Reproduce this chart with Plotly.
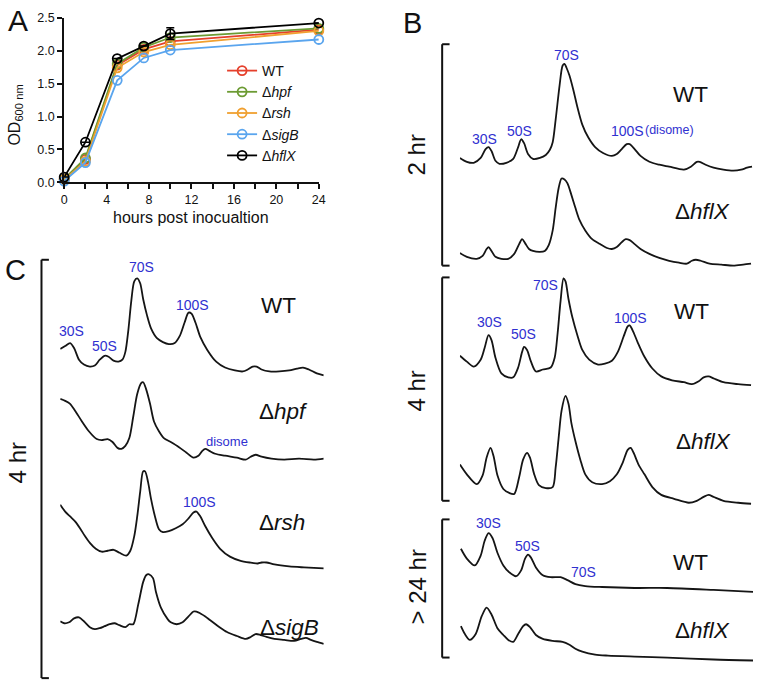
import plotly.graph_objects as go

W, H = 762, 691
FONT = "Liberation Sans, Arial, Helvetica, sans-serif"
BLUE = "#3030d0"

# ---------------- Panel A: growth curves ----------------
hours = [0, 2, 5, 7.5, 10, 24]
od_wt = [0.05, 0.35, 1.78, 2.02, 2.14, 2.32]
od_hpf = [0.05, 0.37, 1.80, 2.05, 2.20, 2.34]
od_rsh = [0.04, 0.32, 1.74, 1.98, 2.09, 2.30]
od_sigb = [0.02, 0.30, 1.55, 1.89, 2.01, 2.17]
od_hflx = [0.08, 0.61, 1.88, 2.07, 2.26, 2.42]
hflx_err = [0, 0, 0, 0, 0.09, 0]
strain_names = ["WT", "Δ<i>hpf</i>", "Δ<i>rsh</i>", "Δ<i>sigB</i>", "Δ<i>hflX</i>"]
strain_colors = ["#e5402c", "#6c9b33", "#f0a030", "#5aa5ee", "#000000"]
x_ticks = [0, 4, 8, 12, 16, 20, 24]
y_ticks = [0.0, 0.5, 1.0, 1.5, 2.0, 2.5]

# ---------------- Panel B: sucrose-gradient profiles (position, A254 mAU) ----------------
b2_wt_pos = [0, 7, 14, 21, 26, 29, 32, 36, 40, 47, 54, 59, 62, 65, 69, 74, 81, 87, 91, 94, 97, 101, 104, 106, 108, 111, 115, 119, 124, 130, 137, 145, 154, 159, 164, 169, 172, 177, 183, 192, 202, 212, 227, 234, 240, 243, 249, 257, 267, 277, 285, 291, 296]
b2_wt_abs = [16, 12, 11, 16, 25, 27, 23, 13, 10, 11, 15, 27, 35, 31, 20, 15, 16, 19, 24, 32, 55, 90, 110, 112, 108, 100, 85, 68, 50, 37, 27, 21, 18, 20, 25, 30, 30, 25, 18, 12, 9, 7, 4, 7, 12, 12, 9, 6, 4, 3, 4, 6, 7]

b2_hflx_pos = [0, 7, 17, 23, 27, 29, 32, 36, 42, 49, 55, 60, 63, 66, 70, 74, 81, 86, 90, 94, 97, 100, 103, 106, 109, 113, 117, 121, 127, 134, 142, 149, 154, 159, 164, 168, 172, 177, 183, 192, 202, 212, 222, 230, 235, 239, 244, 253, 265, 277, 287, 295]
b2_hflx_abs = [19, 15, 13, 16, 23, 25, 21, 15, 13, 13, 18, 28, 33, 29, 23, 21, 20, 21, 27, 42, 65, 85, 95, 94, 90, 78, 65, 53, 42, 33, 28, 24, 23, 25, 30, 33, 32, 28, 23, 18, 14, 11, 9, 8, 11, 12, 11, 8, 7, 6, 7, 8]

b4_wt_pos = [0, 7, 14, 21, 25, 29, 32, 36, 42, 49, 54, 59, 63, 65, 68, 72, 77, 84, 92, 96, 99, 102, 105, 107, 110, 114, 119, 124, 131, 140, 147, 154, 160, 166, 170, 172, 175, 180, 187, 195, 204, 215, 227, 235, 242, 247, 252, 257, 267, 282, 295]
b4_wt_abs = [34, 28, 23, 30, 42, 55, 50, 32, 16, 12, 12, 22, 38, 43, 40, 28, 18, 20, 22, 32, 57, 90, 113, 110, 92, 73, 55, 40, 30, 25, 26, 29, 38, 54, 64, 65, 60, 48, 33, 21, 13, 9, 7, 5, 8, 12, 13, 11, 7, 5, 4]

b4_hflx_pos = [0, 7, 17, 23, 27, 31, 34, 38, 44, 50, 55, 60, 64, 68, 71, 75, 80, 87, 94, 97, 100, 103, 107, 110, 113, 117, 122, 127, 134, 144, 152, 159, 165, 170, 173, 176, 181, 187, 195, 204, 217, 232, 240, 247, 252, 257, 267, 282, 295]
b4_hflx_abs = [43, 33, 23, 32, 50, 60, 52, 32, 18, 14, 13, 30, 48, 55, 50, 34, 22, 19, 20, 40, 70, 98, 113, 105, 85, 67, 48, 33, 25, 23, 26, 33, 45, 58, 60, 55, 43, 33, 20, 12, 8, 4, 6, 10, 12, 10, 6, 4, 3]

b24_wt_pos = [1, 7, 15, 21, 25, 29, 33, 38, 44, 50, 57, 62, 66, 69, 72, 77, 84, 92, 102, 109, 117, 127, 144, 177, 210, 257, 297]
b24_wt_abs = [47, 37, 30, 40, 55, 63, 58, 43, 30, 23, 19, 25, 37, 41, 38, 28, 20, 18, 18, 15, 11, 9, 8, 7, 7, 5, 3]

b24_hflx_pos = [1, 5, 10, 16, 22, 27, 32, 38, 44, 49, 54, 59, 64, 67, 71, 77, 84, 94, 104, 111, 117, 124, 137, 150, 177, 210, 257, 297]
b24_hflx_abs = [38, 30, 24, 30, 48, 57, 50, 36, 29, 24, 22, 30, 38, 40, 37, 29, 25, 23, 22, 19, 15, 12, 9, 8, 7, 6, 4, 3]

# ---------------- Panel C: 4 hr profiles ----------------
c_wt_pos = [0, 5, 10, 14, 19, 24, 30, 35, 40, 45, 49, 54, 59, 63, 66, 69, 72, 75, 78, 81, 84, 88, 92, 98, 104, 110, 116, 121, 126, 130, 133, 137, 142, 149, 158, 167, 177, 185, 190, 195, 199, 204, 212, 222, 232, 240, 246, 252, 260, 267]
c_wt_abs = [31, 34, 37, 32, 20, 15, 13, 14, 20, 24, 23, 19, 18, 20, 28, 50, 80, 100, 103, 98, 82, 65, 52, 42, 38, 36, 37, 44, 58, 68, 67, 58, 43, 30, 18, 12, 9, 8, 10, 13, 13, 10, 8, 8, 9, 11, 12, 10, 6, 4]

c_hpf_pos = [0, 5, 10, 15, 22, 29, 37, 42, 48, 53, 58, 62, 66, 70, 74, 78, 82, 84, 87, 91, 95, 100, 105, 112, 120, 128, 135, 140, 144, 147, 151, 157, 167, 179, 188, 193, 198, 204, 214, 227, 242, 257, 267]
c_hpf_abs = [65, 63, 60, 53, 42, 32, 24, 23, 24, 21, 15, 14, 17, 25, 47, 70, 81, 82, 75, 60, 42, 32, 25, 21, 16, 10, 5, 7, 12, 14, 12, 9, 7, 5, 3, 6, 8, 6, 4, 3, 4, 3, 4]

c_rsh_pos = [0, 5, 10, 15, 20, 25, 30, 36, 42, 48, 54, 60, 67, 71, 75, 78, 81, 84, 86, 89, 92, 96, 100, 104, 110, 117, 124, 130, 135, 138, 142, 147, 154, 162, 172, 182, 192, 200, 204, 209, 217, 232, 247, 267]
c_rsh_abs = [72, 65, 60, 55, 48, 40, 33, 27, 24, 25, 26, 23, 20, 25, 40, 60, 85, 106, 106, 95, 78, 60, 47, 44, 45, 48, 52, 58, 64, 65, 60, 50, 38, 27, 19, 15, 13, 12, 13, 13, 11, 9, 8, 7]

c_sigb_pos = [0, 4, 9, 14, 19, 24, 30, 35, 40, 45, 50, 55, 60, 66, 70, 74, 79, 84, 87, 90, 94, 97, 102, 109, 112, 118, 124, 130, 135, 138, 142, 147, 152, 160, 169, 179, 188, 193, 198, 203, 209, 217, 227, 237, 244, 249, 254, 260, 267]
c_sigb_abs = [28, 26, 27, 31, 32, 28, 22, 20, 21, 23, 25, 26, 24, 22, 25, 25, 45, 68, 75, 76, 72, 58, 42, 30, 27, 25, 27, 33, 38, 38, 36, 33, 29, 23, 17, 13, 10, 12, 15, 14, 12, 10, 9, 8, 10, 11, 9, 7, 5]


def px(x):
    return x / W


def py(y):
    return 1 - y / H


fig = go.Figure()

# Panel A traces
series = [od_wt, od_hpf, od_rsh, od_sigb, od_hflx]
for name, col, vals in zip(strain_names, strain_colors, series):
    err = None
    if name.endswith("hflX</i>"):
        err = dict(type="data", array=hflx_err, arrayminus=hflx_err, color=col,
                   thickness=1.5, width=4)
    fig.add_trace(go.Scatter(
        x=hours, y=vals, name=name, mode="lines+markers",
        line=dict(color=col, width=1.8),
        marker=dict(symbol="circle-open", size=9, color=col, line=dict(width=1.8)),
        error_y=err, cliponaxis=False, xaxis="x", yaxis="y"))

# Profiles: (pos, abs, x-panel, bottom pixel)
profiles = [
    (b2_wt_pos, b2_wt_abs, "B", 170),
    (b2_hflx_pos, b2_hflx_abs, "B", 270),
    (b4_wt_pos, b4_wt_abs, "B", 390),
    (b4_hflx_pos, b4_hflx_abs, "B", 510),
    (b24_wt_pos, b24_wt_abs, "B", 600),
    (b24_hflx_pos, b24_hflx_abs, "B", 670),
    (c_wt_pos, c_wt_abs, "C", 380),
    (c_hpf_pos, c_hpf_abs, "C", 465),
    (c_rsh_pos, c_rsh_abs, "C", 580),
    (c_sigb_pos, c_sigb_abs, "C", 655),
]
WIN = 130  # window height in px == mAU range
layout_axes = {}
for i, (xs, ys, panel, bottom) in enumerate(profiles):
    n = i + 2
    if panel == "B":
        left, span = 463, 297
    else:
        left, span = 58, 267
    fig.add_trace(go.Scatter(
        x=xs, y=ys, mode="lines", showlegend=False,
        line=dict(color="#151515", width=1.8, shape="spline", smoothing=0.8),
        xaxis=f"x{n}", yaxis=f"y{n}", hoverinfo="skip"))
    layout_axes[f"xaxis{n}"] = dict(domain=[px(left), px(left + span)], range=[0, span],
                                    visible=False, anchor=f"y{n}", fixedrange=True)
    layout_axes[f"yaxis{n}"] = dict(domain=[py(bottom), py(bottom - WIN)], range=[0, WIN],
                                    visible=False, anchor=f"x{n}", fixedrange=True)

axis_font = dict(family=FONT, size=12.5, color="#111")
fig.update_layout(
    width=W, height=H, autosize=False,
    margin=dict(l=0, r=0, t=0, b=0),
    paper_bgcolor="white", plot_bgcolor="rgba(0,0,0,0)",
    font=dict(family=FONT, color="#111"),
    xaxis=dict(domain=[px(62), px(320)], range=[0, 24], tickvals=x_ticks,
               ticks="outside", ticklen=5, tickwidth=1.6, tickcolor="#111",
               showline=True, linewidth=2, linecolor="#111", showgrid=False,
               zeroline=False, tickfont=axis_font,
               minor=dict(dtick=2, ticks="outside", ticklen=5, tickwidth=1.6,
                          tickcolor="#111", showgrid=False),
               anchor="y", fixedrange=True),
    yaxis=dict(domain=[py(179), py(11)], range=[0, 2.5], tickvals=y_ticks,
               tickformat=".1f", ticks="outside", ticklen=5, tickwidth=1.6,
               tickcolor="#111", showline=True, linewidth=2, linecolor="#111",
               showgrid=False, zeroline=False, tickfont=axis_font,
               anchor="x", fixedrange=True),
    legend=dict(x=px(222), y=py(49), xanchor="left", yanchor="top",
                bgcolor="rgba(0,0,0,0)", font=dict(family=FONT, size=14, color="#111"),
                itemwidth=30, tracegroupgap=0),
    showlegend=True,
    **layout_axes,
)

# Brackets (shapes)
brackets = [(445, 38, 264), (445, 276, 504), (445, 523, 664), (39, 258, 685)]
for bx, top, bot in brackets:
    for (x0, y0, x1, y1) in [(bx, top, bx, bot), (bx, top, bx + 7.5, top), (bx, bot, bx + 7.5, bot)]:
        fig.add_shape(type="line", xref="paper", yref="paper",
                      x0=px(x0), y0=py(y0), x1=px(x1), y1=py(y1),
                      line=dict(color="#111", width=2))


def ann(text, x, y, size, color="#111", angle=0, xanchor="center"):
    fig.add_annotation(text=text, x=px(x), y=py(y), xref="paper", yref="paper",
                       showarrow=False, textangle=angle, xanchor=xanchor, yanchor="middle",
                       font=dict(family=FONT, size=size, color=color))


# Panel letters
ann("A", 15, 14, 30)
ann("B", 415, 16, 29)
ann("C", 13, 268, 29)

# Panel A axis titles
ann("OD<sub>600 nm</sub>", 13, 110, 16, angle=-90)
ann("hours post inocualtion", 190, 215, 16)

# Time labels
ann("2 hr", 419, 151, 24, angle=-90)
ann("4 hr", 419, 392, 24, angle=-90)
ann("> 24 hr", 420, 592, 24, angle=-90)
ann("4 hr", 15, 465, 24, angle=-90)

# Strain labels
for text, x, y in [("WT", 697, 89), ("Δ<i>hflX</i>", 709, 209),
                   ("WT", 698, 311), ("Δ<i>hflX</i>", 710, 443),
                   ("WT", 697, 567), ("Δ<i>hflX</i>", 709, 636),
                   ("WT", 279, 305), ("Δ<i>hpf</i>", 284, 413),
                   ("Δ<i>rsh</i>", 283, 526), ("Δ<i>sigB</i>", 290, 633)]:
    ann(text, x, y, 22.5)

# Ribosome peak labels
for text, x, y, s in [("30S", 488, 135, 14), ("50S", 523, 127, 14), ("70S", 571, 49, 14),
                      ("100S", 633, 127, 14), ("(disome)", 675, 126, 12.5),
                      ("30S", 493, 322, 14), ("50S", 527, 334, 14), ("70S", 550, 284, 14),
                      ("100S", 636, 317, 14),
                      ("30S", 492, 527, 14), ("50S", 531, 550, 14), ("70S", 588, 577, 14),
                      ("70S", 140, 265, 14), ("30S", 69, 331, 14), ("50S", 103, 346, 14),
                      ("100S", 192, 304, 14), ("disome", 227, 443, 13), ("100S", 199, 505, 14)]:
    ann(text, x, y, s, color=BLUE)

fig.write_html("out.html", config={"displayModeBar": False},
               post_script="document.body.style.margin='0';document.body.style.overflow='hidden';")
